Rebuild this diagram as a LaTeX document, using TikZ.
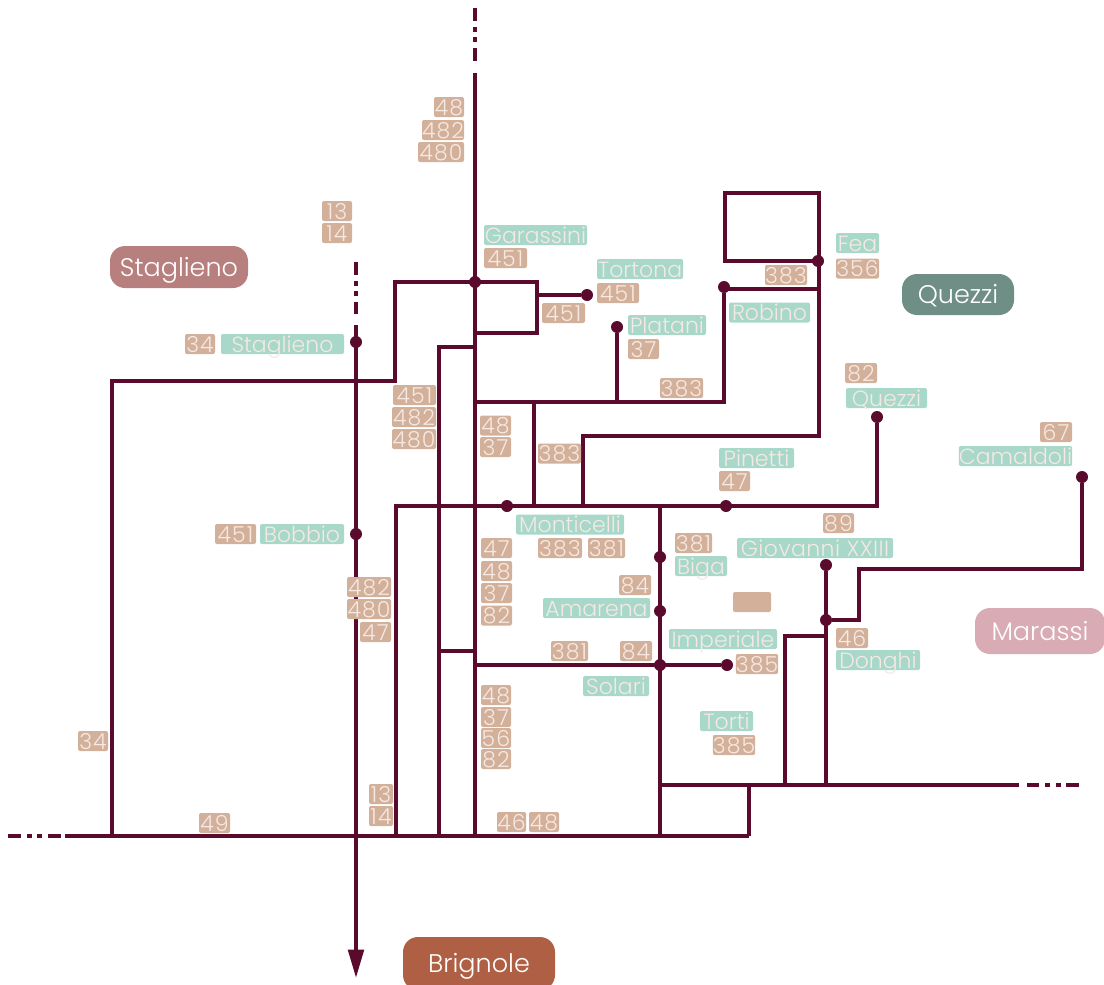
\documentclass[tikz,border=0pt]{standalone}
\usepackage{fontspec}
\setmainfont{Poppins Light}
\usetikzlibrary{arrows.meta,backgrounds}
\definecolor{linecol}{HTML}{5A0A2C}
\definecolor{routecol}{HTML}{D2B09A}
\definecolor{stopcol}{HTML}{A8D8CA}
\definecolor{labelcol}{HTML}{F6E8E2}
\tikzset{
  labelbox/.style={text=labelcol, rounded corners=2pt, inner sep=0pt,
    minimum width=#1, minimum height=20pt, text height=16pt, text depth=0pt},
  routebox/.style={labelbox=#1, fill=routecol, font=\fontsize{22}{22}\selectfont\addfontfeature{LetterSpace=5}},
  stopbox/.style={labelbox=#1, fill=stopcol, font=\fontsize{22}{22}\selectfont},
  areabox/.style={rounded corners=15pt, text=white, inner sep=0pt, text height=18.5pt, text depth=0pt, font=\fontsize{25.5}{25.5}\selectfont},
  stopdot/.style={circle, fill=linecol, inner sep=0pt, minimum size=12pt},
  netline/.style={draw=linecol, line width=4pt, line join=miter},
  farline/.style={netline, dash pattern=on 13pt off 6pt on 5pt off 5pt on 5pt off 6pt on 13pt}
}
\begin{document}
\begin{tikzpicture}[x=1pt, y=-1pt]
  \useasboundingbox (0, 0) rectangle (1104, 985);
  \node[areabox, fill={rgb,255:red,184;green,127;blue,127}, minimum width=138pt, minimum height=42pt] (areaStaglieno) at (179, 267) {Staglieno};
  \node[areabox, fill={rgb,255:red,111;green,143;blue,134}, minimum width=112pt, minimum height=41pt] (areaQuezzi) at (958, 294.5) {Quezzi};
  \node[areabox, fill={rgb,255:red,217;green,171;blue,181}, minimum width=130pt, minimum height=46pt] (areaMarassi) at (1040, 631) {Marassi};
  \node[areabox, fill={rgb,255:red,175;green,96;blue,68}, minimum width=152pt, minimum height=53pt] (areaBrignole) at (479, 963.5) {Brignole};
  \node[routebox=30pt] (r48top) at (449, 107) {48};
  \node[routebox=42pt] (r482top) at (443, 130) {482};
  \node[routebox=46pt] (r480top) at (441, 152) {480};
  \node[routebox=30pt] (r13top) at (337, 211) {13};
  \node[routebox=30pt] (r14top) at (337, 233) {14};
  \node[stopbox=103pt] (sGarassini) at (535.5, 235) {Garassini};
  \node[routebox=43pt] (r451gar) at (505.5, 258) {451};
  \node[stopbox=86pt] (sTortona) at (640, 269) {Tortona};
  \node[routebox=42pt] (r451tor) at (618, 293) {451};
  \node[routebox=43pt] (r451loop) at (563.5, 313) {451};
  \node[stopbox=78pt] (sPlatani) at (667, 325) {Platani};
  \node[routebox=31pt] (r37pla) at (643.5, 349) {37};
  \node[stopbox=43pt] (sFea) at (857.5, 243) {Fea};
  \node[routebox=43pt] (r356) at (857.5, 268.5) {356};
  \node[routebox=42pt] (r383fea) at (786, 275) {383};
  \node[stopbox=81pt] (sRobino) at (769.5, 312.5) {Robino};
  \node[routebox=30pt] (r34sta) at (200, 344) {34};
  \node[stopbox=123pt] (sStaglieno) at (282.5, 344) {Staglieno};
  \node[routebox=43pt] (r451mid) at (414.5, 395) {451};
  \node[routebox=44pt] (r482mid) at (414, 417) {482};
  \node[routebox=44pt] (r480mid) at (414, 439) {480};
  \node[routebox=43pt] (r383pla) at (681.5, 388) {383};
  \node[routebox=32pt] (r82que) at (861, 373) {82};
  \node[stopbox=81pt] (sQuezzi) at (886.5, 398) {Quezzi};
  \node[routebox=32pt] (r67) at (1056, 432) {67};
  \node[stopbox=113pt] (sCamaldoli) at (1015.5, 456) {Camaldoli};
  \node[routebox=31pt] (r48up) at (495.5, 425.5) {48};
  \node[routebox=31pt] (r37up) at (495.5, 447) {37};
  \node[routebox=43pt] (r383low) at (559.5, 453.5) {383};
  \node[stopbox=75pt] (sPinetti) at (756.5, 458) {Pinetti};
  \node[routebox=31pt] (r47pin) at (734.5, 481) {47};
  \node[stopbox=108pt] (sMonticelli) at (570, 524.5) {Monticelli};
  \node[routebox=44pt] (r383mon) at (560, 548) {383};
  \node[routebox=37pt] (r381mon) at (606.5, 548) {381};
  \node[routebox=41pt] (r451bob) at (235.5, 534) {451};
  \node[stopbox=84pt] (sBobbio) at (302, 534) {Bobbio};
  \node[routebox=31pt] (r89) at (838.5, 523) {89};
  \node[stopbox=156pt] (sGiovanni) at (815, 548) {\addfontfeature{LetterSpace=2}Giovanni XXIII};
  \node[routebox=37pt] (r381biga) at (693.5, 543) {381};
  \node[stopbox=52pt] (sBiga) at (701, 566) {Biga};
  \node[routebox=31pt] (r47cen) at (496.5, 548) {47};
  \node[routebox=31pt] (r48cen) at (496.5, 571) {48};
  \node[routebox=31pt] (r37cen) at (496.5, 593) {37};
  \node[routebox=31pt] (r82cen) at (496.5, 615.5) {82};
  \node[routebox=32pt] (r84ama) at (635, 585) {84};
  \node[stopbox=107pt] (sAmarena) at (596.5, 608) {Amarena};
  \node[routebox=38pt] (rblank) at (752, 602) {};
  \node[routebox=44pt] (r482low) at (369, 587) {482};
  \node[routebox=44pt] (r480low) at (369, 609) {480};
  \node[routebox=31pt] (r47low) at (375.5, 632) {47};
  \node[stopbox=108pt] (sImperiale) at (723, 639) {Imperiale};
  \node[routebox=32pt] (r46don) at (852, 638) {46};
  \node[stopbox=84pt] (sDonghi) at (878, 660) {Donghi};
  \node[routebox=37pt] (r381sol) at (569.5, 651) {381};
  \node[routebox=32pt] (r84sol) at (636, 651) {84};
  \node[routebox=42pt] (r385imp) at (757, 664) {385};
  \node[stopbox=66pt] (sSolari) at (616, 686) {Solari};
  \node[routebox=30pt] (r48bot) at (496, 695) {48};
  \node[routebox=30pt] (r37bot) at (496, 717) {37};
  \node[routebox=30pt] (r56bot) at (496, 738) {56};
  \node[routebox=30pt] (r82bot) at (496, 759) {82};
  \node[stopbox=53pt] (sTorti) at (726.5, 721) {Torti};
  \node[routebox=42pt] (r385tor) at (734, 745) {385};
  \node[routebox=30pt] (r34low) at (93, 741) {34};
  \node[routebox=24pt] (r13low) at (381, 794) {13};
  \node[routebox=24pt] (r14low) at (381, 816) {14};
  \node[routebox=31pt] (r49) at (214.5, 823) {49};
  \node[routebox=29pt] (r46bot) at (511.5, 822) {46};
  \node[routebox=30pt] (r48side) at (544, 822) {48};

  \node[stopdot] (dGarassini) at (475, 282) {};
  \node[stopdot] (dTortona) at (587, 295) {};
  \node[stopdot] (dPlatani) at (617, 327) {};
  \node[stopdot] (dFea) at (818, 261) {};
  \node[stopdot] (dRobino) at (724, 287) {};
  \node[stopdot] (dStaglieno) at (356, 342) {};
  \node[stopdot] (dBobbio) at (356, 534) {};
  \node[stopdot] (dQuezzi) at (877, 417) {};
  \node[stopdot] (dCamaldoli) at (1082, 477) {};
  \node[stopdot] (dMonticelli) at (507, 506) {};
  \node[stopdot] (dPinetti) at (726, 506) {};
  \node[stopdot] (dBiga) at (660, 557) {};
  \node[stopdot] (dAmarena) at (660, 611) {};
  \node[stopdot] (dSolari) at (660, 665) {};
  \node[stopdot] (dImperiale) at (727, 665) {};
  \node[stopdot] (dGiovanni) at (826, 565) {};
  \node[stopdot] (dDonghi) at (826, 620) {};

  \foreach \nm/\px/\py in {maintop/475/73, mainfara/475/8, mainfarb/475/61, mainbot/475/836,
      stafara/356/262, stafarb/356/314, statop/356/325, staend/356/978,
      leftfara/8/836, leftfarb/61/836, leftend/65/836, rightbot/749/836,
      rightfara/1079/785, rightfarb/1027/785, rightend/1019/785, crossbot/660/836,
      farlefttop/112/381, farleftbot/112/836, looptop/395/381, loopup/395/282, looprt/537/282, loopbt/537/333, loopin/475/333,
      tortjoin/537/295, shortin/475/347, shortup/439/347, shortbot/439/836, shortmid/439/651, shortmain/475/651,
      northmain/475/402, northmid/534/402, northmidbot/534/506, northpla/617/402, northrt/724/402, robinort/819/289,
      boxa/725/193, boxb/819/261, feabot/819/436, fealeft/583/436, feaend/583/506,
      monstart/396/506, monbot/396/836, monrt/877/506, cross/660/506,
      solstart/475/665, rightjoin/660/785, rightdown/749/785, giobot/826/785,
      donrt/859/620, donup/859/569, camrt/1082/569, ledge/826/636, ledgel/785/636, ledgebot/785/785}
    \coordinate (\nm) at (\px, \py);

  \begin{pgfonlayer}{background}
    \draw[farline] (mainfara) -- (mainfarb);
    \draw[netline] (maintop) -- (mainbot);
    \draw[farline] (stafara) -- (stafarb);
    \draw[netline, -{Triangle[width=15.5pt, length=28.5pt]}] (statop) -- (staend);
    \draw[farline] (leftfara) -- (leftfarb);
    \draw[netline] (leftend) -- (rightbot);
    \draw[netline, dash pattern=on 13pt off 5pt on 5pt off 6pt on 5pt off 6pt on 12pt] (rightfara) -- (rightfarb);
    \draw[netline] (farleftbot) -- (farlefttop) -- (looptop) -- (loopup) -- (looprt) -- (loopbt) -- (loopin);
    \draw[netline] (tortjoin) -- (dTortona);
    \draw[netline] (shortbot) -- (shortup) -- (shortin);
    \draw[netline] (shortmid) -- (shortmain);
    \draw[netline] (northmain) -- (northrt) -- (dRobino);
    \draw[netline] (dRobino |- robinort) -- (robinort);
    \draw[netline] (northmid) -- (northmidbot);
    \draw[netline] (northpla) -- (dPlatani);
    \draw[netline] (boxa) rectangle (boxb);
    \draw[netline] (boxb) -- (feabot) -- (fealeft) -- (feaend);
    \draw[netline] (monbot) -- (monstart) -- (monrt) -- (dQuezzi);
    \draw[netline] (cross) -- (crossbot);
    \draw[netline] (solstart) -- (dImperiale);
    \draw[netline] (rightjoin) -- (rightend);
    \draw[netline] (rightdown) -- (rightbot);
    \draw[netline] (dGiovanni) -- (giobot);
    \draw[netline] (dDonghi) -- (donrt) -- (donup) -- (camrt) -- (dCamaldoli);
    \draw[netline] (ledge) -- (ledgel) -- (ledgebot);
  \end{pgfonlayer}
\end{tikzpicture}
\end{document}
